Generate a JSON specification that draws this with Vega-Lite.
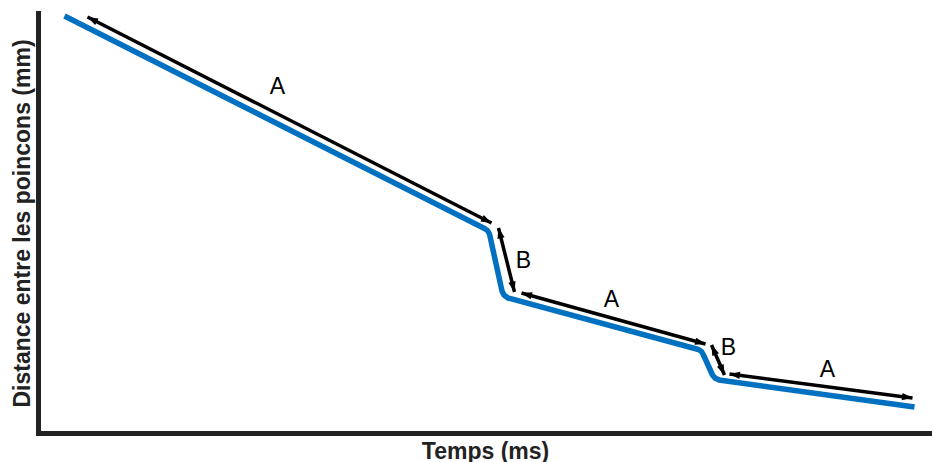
{
  "$schema": "https://vega.github.io/schema/vega-lite/v6.json",
  "width": 894,
  "height": 420,
  "autosize": "none",
  "padding": {"left": 38, "top": 13, "right": 0, "bottom": 29},
  "background": "white",
  "config": {
    "view": {"stroke": null},
    "axis": {
      "domainColor": "#222222",
      "domainWidth": 5,
      "domainCap": "square",
      "ticks": false,
      "labels": false,
      "grid": false,
      "titleFont": "Liberation Sans",
      "titleFontSize": 23,
      "titleFontWeight": "bold",
      "titleColor": "#222222"
    }
  },
  "datasets": {
    "curve": [
      {"t": 26.5, "d": 417},
      {"t": 446.5, "d": 204.5},
      {"t": 449.5, "d": 202.5},
      {"t": 451.5, "d": 199},
      {"t": 464, "d": 142},
      {"t": 466, "d": 138},
      {"t": 470, "d": 135},
      {"t": 660.5, "d": 83.5},
      {"t": 663.5, "d": 81.5},
      {"t": 665.5, "d": 78},
      {"t": 674.5, "d": 58},
      {"t": 677, "d": 55},
      {"t": 681, "d": 53},
      {"t": 876.5, "d": 26}
    ],
    "arrows": [
      {"t1": 49.5, "d1": 416, "t2": 453.5, "d2": 210},
      {"t1": 460.5, "d1": 205, "t2": 476.5, "d2": 141},
      {"t1": 483.5, "d1": 140, "t2": 667.5, "d2": 89},
      {"t1": 673.5, "d1": 88, "t2": 686.5, "d2": 58},
      {"t1": 691.5, "d1": 59, "t2": 874.5, "d2": 35}
    ],
    "labels": [
      {"t": 239.5, "d": 346, "label": "A"},
      {"t": 485.5, "d": 172, "label": "B"},
      {"t": 573.5, "d": 133, "label": "A"},
      {"t": 690.5, "d": 85, "label": "B"},
      {"t": 789.5, "d": 63, "label": "A"}
    ]
  },
  "layer": [
    {
      "data": {"name": "curve"},
      "mark": {"type": "line", "color": "#0070C0", "strokeWidth": 5.5, "interpolate": "linear", "strokeCap": "butt", "strokeJoin": "round"},
      "encoding": {
        "x": {"field": "t", "type": "quantitative", "scale": {"domain": [0, 894], "nice": false, "zero": false}, "axis": {"title": "Temps (ms)", "titlePadding": 7}},
        "y": {"field": "d", "type": "quantitative", "scale": {"domain": [0, 420], "nice": false, "zero": false}, "axis": {"title": "Distance entre les poincons (mm)", "titlePadding": 4}}
      }
    },
    {
      "data": {"name": "arrows"},
      "mark": {"type": "rule", "color": "black", "strokeWidth": 3.5},
      "encoding": {
        "x": {"field": "t1", "type": "quantitative"},
        "y": {"field": "d1", "type": "quantitative"},
        "x2": {"field": "t2"},
        "y2": {"field": "d2"}
      }
    },
    {
      "data": {"name": "arrows"},
      "transform": [
        {"calculate": "atan2(datum.t2 - datum.t1, datum.d2 - datum.d1) * 180 / PI", "as": "ang"}
      ],
      "mark": {"type": "point", "shape": "M0,0L-0.7,2L0.7,2Z", "filled": true, "color": "black", "size": 110, "opacity": 1},
      "encoding": {
        "x": {"field": "t2", "type": "quantitative"},
        "y": {"field": "d2", "type": "quantitative"},
        "angle": {"field": "ang", "type": "quantitative", "scale": null}
      }
    },
    {
      "data": {"name": "arrows"},
      "transform": [
        {"calculate": "atan2(datum.t1 - datum.t2, datum.d1 - datum.d2) * 180 / PI", "as": "ang"}
      ],
      "mark": {"type": "point", "shape": "M0,0L-0.7,2L0.7,2Z", "filled": true, "color": "black", "size": 110, "opacity": 1},
      "encoding": {
        "x": {"field": "t1", "type": "quantitative"},
        "y": {"field": "d1", "type": "quantitative"},
        "angle": {"field": "ang", "type": "quantitative", "scale": null}
      }
    },
    {
      "data": {"name": "labels"},
      "mark": {"type": "text", "font": "Liberation Sans", "fontSize": 23, "color": "black", "align": "center", "baseline": "middle"},
      "encoding": {
        "x": {"field": "t", "type": "quantitative"},
        "y": {"field": "d", "type": "quantitative"},
        "text": {"field": "label"}
      }
    }
  ]
}
